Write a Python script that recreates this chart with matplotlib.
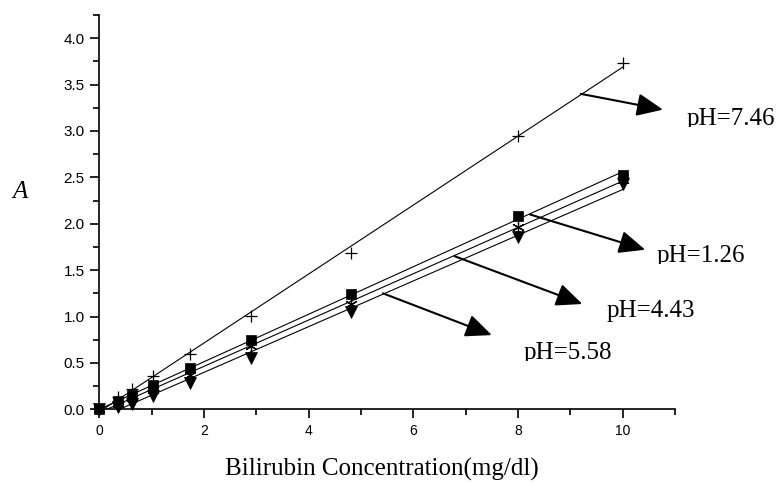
import numpy as np
import matplotlib
matplotlib.use('Agg')
import matplotlib.pyplot as plt
from matplotlib.ticker import MultipleLocator, FormatStrFormatter
from matplotlib.transforms import Bbox, TransformedBbox

# Bilirubin concentration (mg/dl)
conc = [0, 0.35, 0.62, 1.03, 1.74, 2.89, 4.8, 8, 10]

# Absorbance for each pH
abs_746 = [0, 0.13, 0.22, 0.36, 0.60, 1.01, 1.68, 2.95, 3.73]
abs_126 = [0, 0.09, 0.15, 0.26, 0.44, 0.75, 1.24, 2.08, 2.53]
abs_443 = [0, 0.06, 0.12, 0.21, 0.37, 0.68, 1.14, 1.97, 2.47]
abs_558 = [0, 0.03, 0.06, 0.14, 0.28, 0.55, 1.05, 1.86, 2.43]

labels = ['pH=7.46', 'pH=1.26', 'pH=4.43', 'pH=5.58']

W, H = 777, 483
fig = plt.figure(figsize=(W / 100, H / 100), dpi=100)
ax = fig.add_axes([99.3 / W, (H - 409.3) / H, (675 - 99.3) / W, (409.3 - 15) / H])

serif = 'Liberation Serif'
sans = 'Liberation Sans'

series = [
    (abs_746, dict(marker='+', ms=9, mew=0.9, mfc='black')),
    (abs_126, dict(marker='s', ms=6.5, mew=0.5, mfc='black')),
    (abs_443, dict(marker=(6, 2, 0), ms=9, mew=0.9, mfc='black')),
    (abs_558, dict(marker='v', ms=8, mew=0.5, mfc='black')),
]

xfit = np.array([0, 10])
for ys, style in series:
    ax.plot(conc, ys, ls='none', color='black', clip_on=False, zorder=3, **style)
    k, b = np.polyfit(conc, ys, 1)
    ax.plot(xfit, k * xfit + b, color='black', lw=0.8, zorder=2)

# arrows: (start, tip) in data coords
arrows = [
    ((9.20, 3.40), (10.77, 3.23)),
    ((8.23, 2.10), (10.43, 1.72)),
    ((6.79, 1.65), (9.23, 1.135)),
    ((5.42, 1.25), (7.50, 0.80)),
]
for start, tip in arrows:
    ax.annotate('', xy=tip, xytext=start, annotation_clip=False,
                arrowprops=dict(arrowstyle='-|>,head_length=16,head_width=7',
                                mutation_scale=1, color='black', lw=1.5,
                                shrinkA=0, shrinkB=0))

# label texts: left x, baseline y, clip bottom (pixels, from top)
text_pos = [(686.7, 125, 126.5), (656.7, 262, 263.5), (606.7, 316.7, None), (523.3, 359, 360.5)]
for lab, (px, py, clip) in zip(labels, text_pos):
    t = fig.text(px / W, (H - py) / H, lab, family=serif, fontsize=18,
                 ha='left', va='baseline')
    if clip is not None:
        bb = Bbox([[0, (H - clip) / H], [1, 1]])
        t.set_clip_box(TransformedBbox(bb, fig.transFigure))
        t.set_clip_on(True)

ax.set_xlim(0, 11)
ax.set_ylim(0, 4.25)
ax.xaxis.set_major_locator(MultipleLocator(2))
ax.xaxis.set_minor_locator(MultipleLocator(1))
ax.yaxis.set_major_locator(MultipleLocator(0.5))
ax.yaxis.set_minor_locator(MultipleLocator(0.25))
ax.yaxis.set_major_formatter(FormatStrFormatter('%.1f'))
ax.set_xticks([0, 2, 4, 6, 8, 10])

for s in ['top', 'right']:
    ax.spines[s].set_visible(False)
for s in ['left', 'bottom']:
    ax.spines[s].set_linewidth(1.2)

ax.tick_params(which='major', direction='out', length=6.5, width=1.2, pad=4)
ax.tick_params(which='minor', direction='out', length=4, width=1.2)
for lbl in ax.get_xticklabels():
    lbl.set_fontfamily(sans)
    lbl.set_fontsize(10)
for lbl in ax.get_yticklabels():
    lbl.set_fontfamily(sans)
    lbl.set_fontsize(11)

fig.text(382 / W, (H - 476) / H, 'Bilirubin Concentration(mg/dl)', family=serif,
         fontsize=18, ha='center', va='baseline')
fig.text(20 / W, (H - 192) / H, 'A', family=serif, style='italic', fontsize=18,
         ha='center', va='center')

fig.savefig('out.png', dpi=100)
